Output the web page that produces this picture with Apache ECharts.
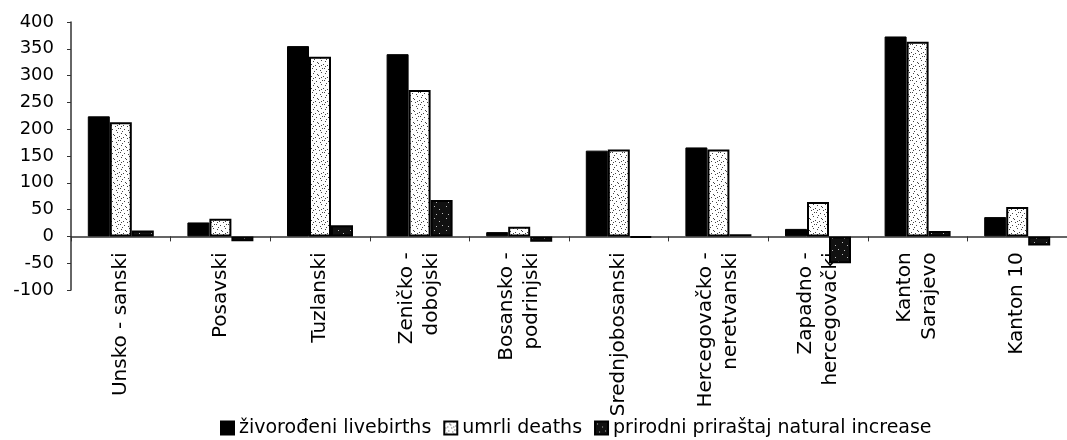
<!DOCTYPE html>
<html><head><meta charset="utf-8">
<script src="https://cdn.jsdelivr.net/npm/echarts@6/dist/echarts.min.js"></script>
<style>html,body{margin:0;padding:0;background:#fff}#c{width:1067px;height:440px}</style>
</head><body><div id="c"></div>
<script>
const categories = ['Unsko - sanski','Posavski','Tuzlanski','Zeničko -\ndobojski','Bosansko -\npodrinjski','Srednjobosanski','Hercegovačko -\nneretvanski','Zapadno -\nhercegovački','Kanton\nSarajevo','Kanton 10'];
const livebirths = [224, 26, 355, 340, 8, 160, 166, 14, 373, 36];
const deaths = [213, 33, 335, 273, 18, 162, 162, 64, 363, 55];
const naturalIncrease = [11, -9, 21, 68, -10, -2, 4, -50, 10, -17];
const seriesNames = ['živorođeni livebirths','umrli deaths','prirodni priraštaj natural increase'];
const yTicks = {min: -100, max: 400, interval: 50};

function makePattern(bg, dot, pts) {
  const c = document.createElement('canvas');
  c.width = 12; c.height = 12;
  const g = c.getContext('2d');
  g.fillStyle = bg; g.fillRect(0,0,12,12);
  g.fillStyle = dot;
  pts.forEach(p => g.fillRect(p[0], p[1], 1, 1));
  return c;
}
const dotsA = [[1,1],[5,2],[9,0],[3,5],[7,6],[11,4],[0,8],[4,9],[8,10],[10,8],[2,11],[6,3],[9,5],[1,6]];
const dotsB = [[2,2],[7,5],[10,9],[4,10]];
const deathPat = {image: makePattern('#ffffff', '#444444', dotsA), repeat: 'repeat'};
const natPat = {image: makePattern('#111111', '#bbbbbb', dotsB), repeat: 'repeat'};

const chart = echarts.init(document.getElementById('c'), null, {renderer: 'canvas'});
const font = '"DejaVu Sans", "Liberation Sans", Arial, sans-serif';
const gridTop = 22, gridBottom = 150, H = 440;
const plotH = H - gridTop - gridBottom;
const zeroOffset = -plotH * (0 - yTicks.min) / (yTicks.max - yTicks.min);
chart.setOption({
  animation: false,
  textStyle: {fontFamily: font, color: '#000'},
  grid: {left: 71, top: gridTop, bottom: gridBottom, width: 1004},
  legend: {
    top: 413, left: 215, itemWidth: 13, itemHeight: 13, itemGap: 12, icon: 'rect',
    textStyle: {fontSize: 19, color: '#000', fontFamily: font, lineHeight: 20},
    data: seriesNames
  },
  xAxis: {
    type: 'category', data: categories,
    offset: zeroOffset,
    axisLine: {onZero: false, lineStyle: {color: '#333', width: 1.5}},
    axisTick: {show: true, length: 5, lineStyle: {color: '#333'}},
    axisLabel: {rotate: 90, fontSize: 20, color: '#000', lineHeight: 25, margin: 16, interval: 0, fontFamily: font}
  },
  yAxis: {
    type: 'value', min: yTicks.min, max: yTicks.max, interval: yTicks.interval,
    splitLine: {show: false},
    axisLine: {show: true, lineStyle: {color: '#333', width: 1.5}},
    axisTick: {show: true, length: 4, lineStyle: {color: '#333'}},
    axisLabel: {fontSize: 18, color: '#000', margin: 17, fontFamily: font}
  },
  series: [
    {name: seriesNames[0], type: 'bar', data: livebirths, barWidth: 22, barGap: '0%',
     itemStyle: {color: '#000', borderColor: '#000', borderWidth: 1}},
    {name: seriesNames[1], type: 'bar', data: deaths, barWidth: 22, barGap: '0%',
     itemStyle: {color: deathPat, borderColor: '#000', borderWidth: 2}},
    {name: seriesNames[2], type: 'bar', data: naturalIncrease, barWidth: 22, barGap: '0%',
     itemStyle: {color: natPat, borderColor: '#000', borderWidth: 2}}
  ]
});
</script></body></html>
